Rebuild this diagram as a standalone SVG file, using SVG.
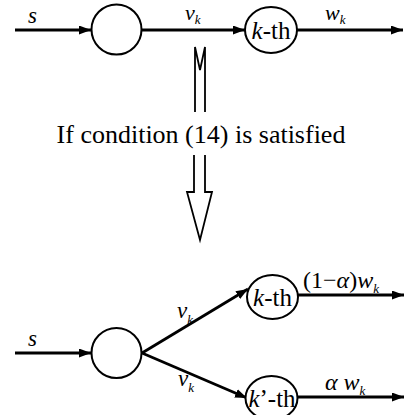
<svg xmlns="http://www.w3.org/2000/svg" width="405" height="415" viewBox="0 0 405 415">
<style>
.ln{stroke:#000;stroke-width:2.8;fill:none}
.nd{stroke:#000;stroke-width:2;fill:#fff}
.hol{stroke:#000;stroke-width:1.8;fill:none}
.t{font-family:"Liberation Serif",serif;fill:#000}
.i{font-style:italic}
</style>
<defs>
<marker id="ah" viewBox="0 0 12 9" refX="12" refY="4.5" markerWidth="12" markerHeight="9" markerUnits="userSpaceOnUse" orient="auto">
<path d="M0,0 L12,4.5 L0,9 Z" fill="#000"/>
</marker>
</defs>
<rect width="405" height="415" fill="#fff"/>
<g id="connectors">
<line class="ln" x1="15" y1="30" x2="91" y2="30" marker-end="url(#ah)"/>
<line class="ln" x1="142" y1="30" x2="245" y2="30" marker-end="url(#ah)"/>
<line class="ln" x1="297" y1="30" x2="403" y2="30" marker-end="url(#ah)"/>
<line class="ln" x1="15" y1="353" x2="91" y2="353" marker-end="url(#ah)"/>
<line class="ln" x1="142" y1="353" x2="248" y2="289" marker-end="url(#ah)"/>
<line class="ln" x1="142" y1="353" x2="247" y2="398" marker-end="url(#ah)"/>
<line class="ln" x1="298" y1="295" x2="404" y2="295" marker-end="url(#ah)"/>
<line class="ln" x1="298" y1="397" x2="404" y2="397" marker-end="url(#ah)"/>
</g>
<g id="transform-arrows">
<path class="hol" d="M195,112 L195,47 L200,70 L205,47 L205,112"/>
<path class="hol" d="M194,155 L194,192 L187,192 L200,240 L212,192 L205,192 L205,155"/>
</g>
<g id="n1"><circle class="nd" cx="116.5" cy="29.5" r="25"/></g>
<g id="n2"><ellipse class="nd" cx="271" cy="30" rx="26" ry="23"/><text class="t" x="271" y="39" font-size="25" text-anchor="middle"><tspan class="i">k</tspan>-th</text></g>
<g id="n3"><circle class="nd" cx="116.5" cy="353" r="25"/></g>
<g id="n4"><ellipse class="nd" cx="272.5" cy="297" rx="25.5" ry="22"/><text class="t" x="272.5" y="306" font-size="25" text-anchor="middle"><tspan class="i">k</tspan>-th</text></g>
<g id="n5"><ellipse class="nd" cx="271.5" cy="398" rx="26" ry="22"/><text class="t" x="272" y="407" font-size="25" text-anchor="middle"><tspan class="i">k</tspan>’-th</text></g>
<g id="labels">
<text class="t i" x="28" y="23" font-size="23">s</text>
<text class="t i" x="185" y="20" font-size="22">v<tspan font-size="13" dy="4">k</tspan></text>
<text class="t i" x="325" y="20" font-size="22">w<tspan font-size="13" dy="4">k</tspan></text>
<text class="t" x="201" y="143" font-size="26" text-anchor="middle">If condition (14) is satisfied</text>
<text class="t i" x="28" y="346" font-size="23">s</text>
<text class="t i" x="177" y="318" font-size="23">v<tspan font-size="13" dy="6">k</tspan></text>
<text class="t i" x="178" y="386" font-size="23">v<tspan font-size="13" dy="6">k</tspan></text>
<text class="t" x="303" y="288" font-size="24">(1−<tspan class="i">α</tspan>)<tspan class="i">w</tspan><tspan class="i" font-size="13" dy="5">k</tspan></text>
<text class="t i" x="325" y="390" font-size="24">α w<tspan font-size="13" dy="5">k</tspan></text>
</g>
</svg>
